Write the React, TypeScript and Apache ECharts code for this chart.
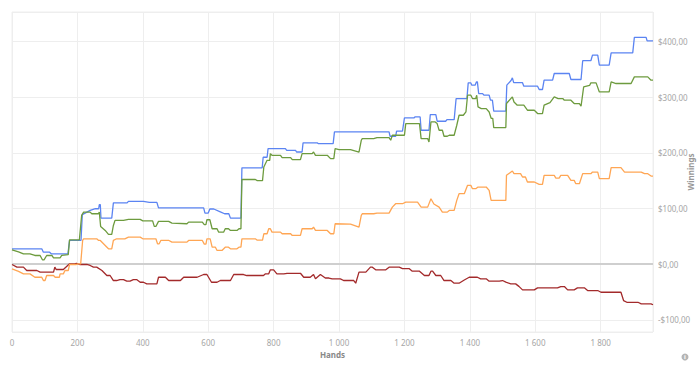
import React, { useEffect, useRef } from "react";
import * as echarts from "echarts";

const xTicks = [0, 200, 400, 600, 800, 1000, 1200, 1400, 1600, 1800];
const yTicks = [-100, 0, 100, 200, 300, 400];

const blueSeries: [number, number][] = [
  [0, 27.5], [91, 27.5], [96, 21.4], [115, 21.4], [120, 18.5], [171, 18.5], [176, 42.5], [211, 42.5],
  [215, 89], [239, 96.5], [255, 99.5], [265, 99.5], [267, 107], [270, 107], [272, 82.6], [305, 82.6],
  [310, 110], [352, 110], [356, 112.7], [402, 112.7], [420, 111], [443, 111], [448, 101], [586, 101],
  [590, 91.7], [600, 91.7], [605, 99], [617, 99], [637, 94], [650, 90.5], [663, 90.5], [668, 82.6],
  [700, 82.6], [703, 173], [765, 173], [768, 192], [780, 192], [783, 207.5], [836, 207.5], [840, 204.5],
  [867, 204.5], [870, 201.4], [887, 201.4], [890, 218], [933, 218], [936, 216.5], [982, 216.5],
  [986, 237.5], [1153, 237.5], [1156, 229.7], [1173, 229.7], [1176, 239], [1194, 239], [1200, 262.6],
  [1229, 262.6], [1232, 264.4], [1248, 264.4], [1251, 240.5], [1275, 240.5], [1279, 268.7], [1296, 268.7],
  [1300, 256.7], [1326, 256.7], [1330, 259.7], [1352, 259.7], [1358, 297.5], [1391, 297.5], [1395, 325.6],
  [1403, 325.6], [1406, 321.5], [1416, 321.5], [1420, 327.4], [1423, 327.4], [1427, 306.5], [1439, 306.5],
  [1443, 303.5], [1459, 303.5], [1463, 294.5], [1469, 294.5], [1473, 275], [1510, 275], [1513, 321.5],
  [1526, 330], [1530, 334.6], [1534, 326], [1561, 326], [1565, 319.7], [1607, 319.7], [1612, 313.7],
  [1622, 313.7], [1627, 330.5], [1653, 330.5], [1658, 342.5], [1704, 342.5], [1709, 331.7], [1740, 331.7],
  [1745, 365.5], [1770, 365.5], [1775, 375.5], [1791, 375.5], [1796, 357.5], [1826, 357.5], [1832, 379.6],
  [1898, 379.6], [1903, 407.3], [1939, 407.3], [1942, 401], [1960, 401],
];

const greenSeries: [number, number][] = [
  [0, 25.7], [20, 22], [35, 18.5], [55, 18.5], [70, 15.5], [86, 15.5], [93, 7.7], [98, 7.7], [106, 15.5],
  [122, 15.5], [127, 11.3], [147, 11.3], [152, 15.5], [172, 17], [176, 43.7], [206, 43.7], [213, 87.5],
  [219, 93.4], [239, 93.4], [244, 90.5], [264, 90.5], [267, 93.4], [271, 67.7], [285, 60.5], [295, 53.3],
  [305, 53.3], [310, 69.5], [315, 78.5], [341, 78.5], [356, 80.3], [392, 80.3], [400, 77.6], [430, 77.6],
  [435, 67.7], [440, 67.7], [448, 76.7], [479, 76.7], [489, 73.6], [535, 72.5], [540, 75.4], [582, 75.4],
  [588, 71], [593, 71], [596, 79.7], [605, 79.7], [612, 63.5], [627, 63.5], [632, 57.4], [647, 57.4],
  [652, 63.5], [662, 63.5], [668, 60.5], [688, 60.5], [694, 63.5], [700, 63.5], [703, 152], [744, 152],
  [750, 150], [766, 150], [770, 174.4], [780, 186.5], [788, 186.5], [790, 198.5], [795, 195.5], [821, 195.5],
  [826, 191.3], [852, 191.3], [857, 187.7], [882, 187.7], [887, 198.5], [918, 198.5], [922, 201.4],
  [928, 195.5], [964, 195.5], [974, 189.5], [984, 189.5], [988, 207.5], [1000, 205.7], [1035, 205.7],
  [1061, 201.4], [1068, 222.5], [1071, 225.5], [1106, 225.5], [1116, 227.3], [1153, 227.3], [1158, 222.5],
  [1163, 231.5], [1200, 231.5], [1204, 252.5], [1246, 252.5], [1251, 225.5], [1271, 225.5], [1275, 219.4],
  [1281, 255.4], [1294, 255.4], [1300, 252.5], [1306, 240.5], [1316, 240.5], [1321, 229.7], [1331, 229.7],
  [1337, 231.5], [1352, 231.5], [1360, 249.5], [1367, 267.5], [1380, 267.5], [1388, 273.4], [1393, 303.5],
  [1403, 303.5], [1408, 297.5], [1418, 297.5], [1421, 303.5], [1425, 282.4], [1435, 279.5], [1450, 279.5],
  [1459, 273.4], [1465, 262], [1470, 262], [1473, 245.3], [1510, 245.3], [1512, 288.5], [1530, 300.4],
  [1535, 291.4], [1545, 285.5], [1565, 285.5], [1576, 276.5], [1597, 276.5], [1607, 270.5], [1622, 270.5],
  [1627, 285.5], [1645, 290], [1658, 300.4], [1670, 297.5], [1684, 297.5], [1689, 294.5], [1709, 294.5],
  [1719, 288.5], [1735, 288.5], [1740, 283.7], [1748, 318.4], [1766, 321], [1770, 325.6], [1786, 325.6],
  [1796, 309.4], [1826, 309.4], [1832, 327.4], [1847, 324.5], [1893, 324.5], [1903, 336.4], [1944, 336.4],
  [1954, 330.5], [1960, 330.5],
];

const orangeSeries: [number, number][] = [
  [0, -8.5], [20, -13], [35, -17.5], [55, -17.5], [70, -23.6], [91, -23.6], [96, -29.5], [101, -29.5],
  [106, -20.5], [127, -20.5], [132, -23.6], [145, -23.6], [147, -17.5], [157, -17.5], [162, -11.5],
  [172, -11.5], [176, -0.7], [197, -0.7], [202, 0.5], [210, 0.5], [216, 42.5], [219, 45.5], [259, 45.5],
  [265, 42.5], [270, 42.5], [285, 33.5], [295, 27.5], [305, 27.5], [310, 42.5], [320, 45.5], [345, 45.5],
  [356, 48.4], [392, 48.4], [400, 45.5], [440, 45.5], [445, 36.5], [450, 36.5], [455, 42.5], [480, 42.5],
  [489, 39.4], [535, 39.4], [540, 42.5], [582, 42.5], [588, 36], [593, 36], [596, 45.5], [606, 45.5],
  [612, 30.4], [622, 30.4], [627, 24.5], [642, 24.5], [652, 30.4], [662, 30.4], [668, 27.5], [688, 27.5],
  [694, 30.4], [700, 30.4], [703, 45.5], [744, 45.5], [750, 43], [766, 43], [770, 54.5], [780, 54.5],
  [785, 63.5], [790, 63.5], [795, 57.5], [821, 57.5], [826, 54.5], [852, 54.5], [857, 51.5], [882, 51.5],
  [887, 63.5], [918, 63.5], [922, 66.4], [928, 60.5], [964, 60.5], [974, 54.5], [984, 54.5], [988, 72.5],
  [1035, 71.8], [1061, 66.4], [1068, 87.5], [1071, 90.5], [1106, 90.5], [1116, 91.5], [1153, 91.5],
  [1163, 102.4], [1173, 108.5], [1194, 108.5], [1204, 111.4], [1240, 111.4], [1251, 102.4], [1271, 102.4],
  [1281, 117.5], [1290, 108], [1306, 102.4], [1316, 93.4], [1331, 93.4], [1337, 96.4], [1352, 96.4],
  [1360, 114.5], [1367, 126.5], [1383, 126.5], [1393, 141.5], [1403, 141.5], [1408, 135.5], [1418, 135.5],
  [1425, 138.5], [1450, 138.5], [1459, 132.5], [1465, 114.5], [1510, 114.5], [1512, 159.5], [1530, 167.3],
  [1535, 162.5], [1555, 162.5], [1561, 156.5], [1570, 156.5], [1576, 147.5], [1597, 147.5], [1612, 143.3],
  [1622, 143.3], [1627, 159.5], [1658, 159.5], [1663, 154.5], [1673, 154.5], [1678, 159.5], [1699, 159.5],
  [1709, 150.5], [1719, 150.5], [1724, 144.5], [1735, 144.5], [1745, 162.5], [1770, 162.5], [1775, 165.4],
  [1791, 165.4], [1796, 153.5], [1826, 153.5], [1832, 173.3], [1862, 173.3], [1873, 165.4], [1924, 165.4],
  [1934, 162.5], [1944, 162.5], [1954, 158.2], [1960, 158.2],
];

const redSeries: [number, number][] = [
  [0, -0.7], [15, -5.5], [35, -5.5], [45, -11.5], [76, -11.5], [86, -14.5], [127, -14.5], [131, -5.5],
  [135, -9.7], [157, -9.7], [167, -4.3], [176, 0.5], [192, 0.5], [197, 1.5], [207, -0.7], [229, -0.7],
  [239, -2.5], [249, -5.5], [259, -5.5], [275, -11.5], [290, -20.5], [300, -20.5], [310, -29.5], [320, -29.5],
  [330, -28], [341, -28], [351, -30.7], [361, -30.7], [371, -28], [382, -28], [392, -32.6], [402, -32.6],
  [412, -35.5], [443, -35.5], [448, -23.6], [469, -23.6], [479, -29.5], [515, -29.5], [525, -23.6],
  [566, -23.6], [586, -18.7], [596, -18.7], [610, -32.6], [627, -32.6], [637, -29.5], [668, -29.5],
  [678, -18.7], [708, -18.7], [718, -20.5], [769, -20.5], [775, -17.5], [785, -17.5], [790, -10.3],
  [800, -10.3], [810, -17.5], [831, -17.5], [841, -16.5], [882, -16.5], [892, -23.6], [912, -23.6],
  [922, -18.7], [928, -26.5], [943, -18.7], [958, -25], [969, -25], [979, -26.5], [1004, -26.5],
  [1014, -29.5], [1045, -29.5], [1051, -34.3], [1061, -14.5], [1082, -14.5], [1096, -5.5], [1102, -5.5],
  [1112, -10.3], [1143, -10.3], [1153, -5.5], [1184, -5.5], [1194, -8], [1214, -8], [1224, -12.7],
  [1246, -12.7], [1261, -20.5], [1275, -20.5], [1281, -12.7], [1286, -12.7], [1296, -20.5], [1311, -20.5],
  [1321, -29.5], [1342, -29.5], [1352, -34.3], [1367, -34.3], [1383, -28.5], [1398, -23.6], [1423, -23.6],
  [1433, -26.5], [1450, -26.5], [1459, -30.7], [1490, -30.7], [1500, -29.5], [1510, -32.5], [1525, -35.5],
  [1540, -35.5], [1550, -40], [1561, -46.3], [1597, -46.3], [1607, -42.7], [1668, -42.7], [1678, -40.3],
  [1689, -40.3], [1699, -46.3], [1719, -46.3], [1729, -42.7], [1750, -42.7], [1760, -47.5], [1791, -47.5],
  [1801, -50.6], [1862, -50.6], [1870, -65.5], [1880, -68.6], [1914, -68.6], [1924, -71.5], [1954, -71.5],
  [1960, -73],
];

const X_MIN = 0;
const X_MAX = 1960;
const Y_MIN = -122;
const Y_MAX = 453;

const FONT = "'Noto Sans', sans-serif";

function fmtHands(v: number): string {
  if (v >= 1000) {
    return `${Math.floor(v / 1000)} ${String(v % 1000).padStart(3, "0")}`;
  }
  return String(v);
}

function fmtMoney(v: number): string {
  const s = Math.abs(v).toFixed(2).replace(".", ",");
  return (v < 0 ? "-" : "") + "$" + s;
}

export default function App() {
  const ref = useRef<HTMLDivElement>(null);
  useEffect(() => {
    if (!ref.current) return;
    const chart = echarts.init(ref.current, undefined, { renderer: "svg" });
    const line = (data: [number, number][], color: string, z: number) => ({
      type: "line",
      data,
      showSymbol: false,
      symbol: "none",
      z,
      lineStyle: { color, width: 1.3 },
      itemStyle: { color },
      silent: true,
    });
    chart.setOption({
      animation: false,
      backgroundColor: "#ffffff",
      grid: {
        left: 12,
        right: 47,
        top: 12,
        bottom: 33,
        show: true,
        borderColor: "#eeeeee",
        borderWidth: 1,
        containLabel: false,
        outerBoundsMode: "none",
      },
      xAxis: {
        type: "value",
        min: X_MIN,
        max: X_MAX,
        interval: 200,
        name: "Hands",
        nameLocation: "middle",
        nameGap: 18,
        nameTextStyle: { color: "#888888", fontSize: 8, fontWeight: "bold", fontFamily: FONT },
        axisLine: { show: false },
        axisTick: { show: false },
        axisLabel: {
          color: "#a6a6a6",
          fontSize: 8,
          fontFamily: FONT,
          margin: 6,
          showMaxLabel: false,
          formatter: (v: number) => (xTicks.includes(v) ? fmtHands(v) : ""),
        },
        splitLine: { show: true, lineStyle: { color: "#eeeeee", width: 1 } },
      },
      yAxis: {
        type: "value",
        position: "right",
        min: Y_MIN,
        max: Y_MAX,
        axisLine: { show: false },
        axisTick: { show: false },
        axisLabel: {
          color: "#a6a6a6",
          fontSize: 8,
          fontFamily: FONT,
          margin: 5,
          showMinLabel: false,
          showMaxLabel: false,
          formatter: (v: number) => (yTicks.includes(v) ? fmtMoney(v) : ""),
        },
        splitLine: { show: true, lineStyle: { color: "#eeeeee", width: 1 } },
      },
      graphic: [
        {
          type: "text",
          x: 690,
          y: 172,
          rotation: Math.PI / 2,
          style: {
            text: "Winnings",
            fill: "#999999",
            fontSize: 8,
            fontWeight: "bold",
            fontFamily: FONT,
            align: "center",
            verticalAlign: "middle",
          },
        },
        {
          type: "circle",
          shape: { cx: 685, cy: 357, r: 3.5 },
          style: { fill: "#b5b5b5" },
        },
        {
          type: "text",
          x: 685,
          y: 357,
          style: {
            text: "i",
            fill: "#ffffff",
            fontSize: 6,
            fontWeight: "bold",
            fontFamily: FONT,
            align: "center",
            verticalAlign: "middle",
          },
        },
      ],
      series: [
        {
          ...line(redSeries, "#a32a2b", 3),
          markLine: {
            silent: true,
            symbol: "none",
            label: { show: false },
            lineStyle: { color: "#cfcfcf", width: 2, type: "solid" },
            data: [{ yAxis: 0 }],
            z: 1,
          },
        },
        line(orangeSeries, "#ffa654", 4),
        line(blueSeries, "#5b84f2", 5),
        line(greenSeries, "#6d9b3e", 6),
      ],
    });
    return () => chart.dispose();
  }, []);
  return (
    <div
      ref={ref}
      style={{ position: "fixed", left: 0, top: 0, width: 700, height: 365, background: "#fff" }}
    />
  );
}
